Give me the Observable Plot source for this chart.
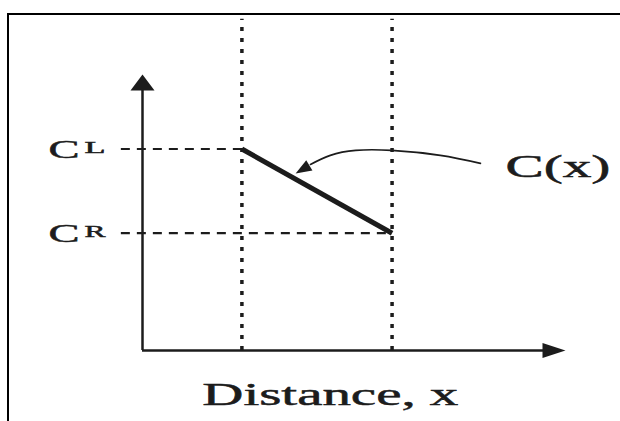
<!DOCTYPE html>
<html><head><meta charset="utf-8">
<script src="https://cdn.jsdelivr.net/npm/d3@7"></script>
<script src="https://cdn.jsdelivr.net/npm/@observablehq/plot@0.6"></script>
<style>
html,body{margin:0;padding:0;background:#fff;}
#wrap{position:relative;width:620px;height:421px;overflow:hidden;}
#frame{position:absolute;left:7px;top:13px;width:640px;height:430px;border-top:2px solid #000;border-left:2px solid #000;box-sizing:border-box;pointer-events:none;}
#chart svg{position:absolute;left:0;top:0;}
</style></head><body>
<div id="wrap"><div id="chart"></div><div id="frame"></div></div>
<script>
// boundary positions along distance x (left / right)
const boundaryX = [2.35, 5.9];
// concentration levels at the boundaries
const levelNames = ["L", "R"];
const levelValues = [7.3, 4.25];
// axis extents (data units)
const xAxisEnd = 10;
const yAxisEnd = 10;
const boundaryTop = 12;
const guideStart = -0.5;
// annotation pointer path (from label toward the profile)
const pointerX = [7.99, 7.04, 5.89, 5.04, 4.44, 3.97];
const pointerY = [6.78, 7.07, 7.25, 7.25, 7.07, 6.74];
const pointerTip = [3.62, 6.41];
// labels
const levelLabelX = -2.22;
const levelSupX = -1.37;
const curveLabel = "C(x)";
const curveLabelPos = [8.58, 6.30];
const xAxisTitle = "Distance, x";
const xAxisTitlePos = [4.44, -1.96];

const levels = levelNames.map((n, i) => ({name: n, value: levelValues[i], x: boundaryX[i]}));
const profile = boundaryX.map((x, i) => ({x, c: levelValues[i]}));
const pointer = pointerX.map((x, i) => ({x, y: pointerY[i]}));

const ink = "#1c1c1c";
const serif = "'Liberation Serif', 'Times New Roman', serif";

const upHead = {draw(ctx) { ctx.moveTo(0, 0); ctx.lineTo(-12, 16); ctx.lineTo(12, 16); ctx.closePath(); }};
const rightHead = {draw(ctx) { ctx.moveTo(0, 0); ctx.lineTo(-23, -7.5); ctx.lineTo(-23, 7.5); ctx.closePath(); }};
const pointerHead = {draw(ctx) {
  const dx = -0.857, dy = 0.514, len = 16, half = 6;
  const bx = -dx * len, by = -dy * len, px = -dy * half, py = dx * half;
  ctx.moveTo(0, 0); ctx.lineTo(bx + px, by + py); ctx.lineTo(bx - px, by - py); ctx.closePath();
}};

const plot = Plot.plot({
  width: 620, height: 421,
  marginLeft: 142, marginRight: 55, marginTop: 74, marginBottom: 71,
  x: {domain: [0, xAxisEnd], axis: null},
  y: {domain: [0, yAxisEnd], axis: null},
  style: {background: "transparent", overflow: "visible"},
  marks: [
    Plot.ruleX(boundaryX, {x: d => d, y1: 0, y2: boundaryTop, stroke: ink, strokeWidth: 3.5, strokeDasharray: "4,7"}),
    Plot.ruleY(levels, {y: "value", x1: guideStart, x2: "x", stroke: ink, strokeWidth: 2.2, strokeDasharray: "9,7"}),
    Plot.ruleX([0], {y1: 0, y2: yAxisEnd - 0.4, stroke: ink, strokeWidth: 2.5}),
    Plot.ruleY([0], {x1: 0, x2: xAxisEnd - 0.4, stroke: ink, strokeWidth: 2.5}),
    Plot.dot([[0, yAxisEnd]], {x: d => d[0], y: d => d[1], symbol: upHead, fill: ink, stroke: "none"}),
    Plot.dot([[xAxisEnd, 0]], {x: d => d[0], y: d => d[1], symbol: rightHead, fill: ink, stroke: "none"}),
    Plot.line(profile, {x: "x", y: "c", stroke: ink, strokeWidth: 5, strokeLinecap: "butt"}),
    Plot.line(pointer, {x: "x", y: "y", curve: "natural", stroke: ink, strokeWidth: 1.6}),
    Plot.dot([pointerTip], {x: d => d[0], y: d => d[1], symbol: pointerHead, fill: ink, stroke: "none"}),
    Plot.text(levels, {x: levelLabelX, y: "value", text: () => "C", textAnchor: "start", lineAnchor: "bottom", dy: 9, fontSize: 26, fontFamily: serif, fill: ink}),
    Plot.text(levels, {x: levelSupX, y: "value", text: "name", textAnchor: "start", lineAnchor: "bottom", dy: 4, fontSize: 17, fontFamily: serif, fill: ink}),
    Plot.text([curveLabelPos], {x: d => d[0], y: d => d[1], text: () => curveLabel, textAnchor: "start", lineAnchor: "bottom", fontSize: 31, fontFamily: serif, fill: ink}),
    Plot.text([xAxisTitlePos], {x: d => d[0], y: d => d[1], text: () => xAxisTitle, textAnchor: "middle", lineAnchor: "bottom", fontSize: 31, fontFamily: serif, fill: ink})
  ]
});

// horizontal stretch of the lettering, as in the reference figure
const textWidths = {"C": 31, "L": 21, "R": 21};
textWidths[curveLabel] = 105;
textWidths[xAxisTitle] = 256;
d3.select(plot).selectAll("text").each(function() {
  const w = textWidths[this.textContent];
  if (w) {
    d3.select(this).attr("textLength", w).attr("lengthAdjust", "spacingAndGlyphs")
      .attr("stroke", ink).attr("stroke-width", 0.5);
  }
});

document.getElementById("chart").appendChild(plot);
</script>
</body></html>
